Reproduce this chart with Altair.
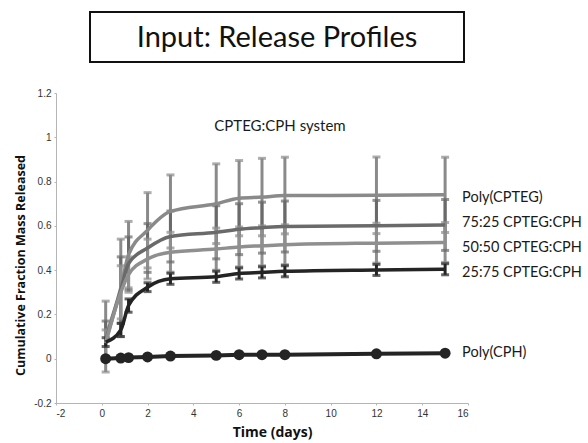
import altair as alt
import pandas as pd

# ---- data ----
times = [0.17, 0.83, 1.17, 2, 3, 5, 6, 7, 8, 12, 15]
series_names = ["Poly(CPTEG)", "75:25 CPTEG:CPH", "50:50 CPTEG:CPH", "25:75 CPTEG:CPH", "Poly(CPH)"]
cpteg = [0.10, 0.32, 0.47, 0.58, 0.665, 0.70, 0.725, 0.73, 0.737, 0.738, 0.74]
cpteg_sd = [0.16, 0.22, 0.15, 0.17, 0.165, 0.18, 0.17, 0.175, 0.173, 0.173, 0.17]
r7525 = [0.08, 0.31, 0.43, 0.50, 0.552, 0.571, 0.585, 0.592, 0.597, 0.600, 0.604]
r7525_sd = [0.09, 0.15, 0.12, 0.11, 0.115, 0.12, 0.115, 0.115, 0.115, 0.115, 0.115]
r5050 = [0.07, 0.30, 0.38, 0.45, 0.481, 0.495, 0.505, 0.510, 0.515, 0.522, 0.525]
r5050_sd = [0.06, 0.12, 0.08, 0.09, 0.09, 0.095, 0.09, 0.09, 0.09, 0.09, 0.09]
r2575 = [0.075, 0.13, 0.24, 0.323, 0.361, 0.370, 0.385, 0.390, 0.395, 0.401, 0.404]
r2575_sd = [0.02, 0.03, 0.03, 0.02, 0.025, 0.025, 0.025, 0.025, 0.025, 0.025, 0.025]
cph = [0.0, 0.003, 0.005, 0.008, 0.012, 0.015, 0.018, 0.018, 0.018, 0.022, 0.025]
label_anchor = [0.728, 0.615, 0.502, 0.389, 0.027]

x_ticks = [-2, 0, 2, 4, 6, 8, 10, 12, 14, 16]
y_ticks = [-0.2, 0, 0.2, 0.4, 0.6, 0.8, 1.0, 1.2]

colors = ["#8a8a8a", "#6a6a6a", "#8f8f8f", "#242424", "#242424"]

# ---- tables ----
rows = []
for name, vals, sds in [
    ("Poly(CPTEG)", cpteg, cpteg_sd),
    ("75:25 CPTEG:CPH", r7525, r7525_sd),
    ("50:50 CPTEG:CPH", r5050, r5050_sd),
    ("25:75 CPTEG:CPH", r2575, r2575_sd),
]:
    for t, v, s in zip(times, vals, sds):
        rows.append({"series": name, "t": t, "v": v, "lo": v - s, "hi": v + s})
err_df = pd.DataFrame(rows)
cph_df = pd.DataFrame({"series": "Poly(CPH)", "t": times, "v": cph})
lab_df = pd.DataFrame({"series": series_names, "t": [times[-1]] * 5, "v": label_anchor})

color = alt.Color("series:N", scale=alt.Scale(domain=series_names, range=colors), legend=None)
xs = alt.Scale(domain=[-2, 16], nice=False, zero=False)
ys = alt.Scale(domain=[-0.2, 1.2], nice=False, zero=False)

xax = alt.Axis(values=x_ticks, grid=False, labelExpr="toString(datum.value)",
               title="Time (days)", titleX=216, titleY=29, titleBaseline="middle",
               titleAnchor="start", titleAlign="center")
yax = alt.Axis(values=y_ticks, grid=False,
               labelExpr="toString(round(datum.value*10)/10)",
               title="Cumulative Fraction Mass Released", titleX=-36, titleY=172,
               titleAngle=-90, titleAlign="center", titleBaseline="middle",
               titleAnchor="start", titleFontSize=12.5)

X = alt.X("t:Q", scale=xs, axis=xax)
Y = alt.Y("v:Q", scale=ys, axis=yax)

base = alt.Chart(err_df)
rules = base.mark_rule(strokeWidth=3).encode(
    x=alt.X("t:Q", scale=xs), y=alt.Y("lo:Q", scale=ys), y2="hi:Q", color=color)
cap_lo = base.mark_tick(orient="horizontal", size=8, thickness=3).encode(
    x=alt.X("t:Q", scale=xs), y=alt.Y("lo:Q", scale=ys), color=color)
cap_hi = base.mark_tick(orient="horizontal", size=8, thickness=3).encode(
    x=alt.X("t:Q", scale=xs), y=alt.Y("hi:Q", scale=ys), color=color)
lines = base.mark_line(strokeWidth=3.5, interpolate="monotone").encode(
    x=X, y=Y, color=color, order="t:Q")

cph_line = alt.Chart(cph_df).mark_line(strokeWidth=4).encode(
    x=alt.X("t:Q", scale=xs), y=alt.Y("v:Q", scale=ys), color=color)
cph_pts = alt.Chart(cph_df).mark_circle(size=120, opacity=1).encode(
    x=alt.X("t:Q", scale=xs), y=alt.Y("v:Q", scale=ys), color=color)

labels = alt.Chart(lab_df).mark_text(
    align="left", baseline="middle", dx=17, font="Lato", fontSize=14.5, color="#1a1a1a"
).encode(x=alt.X("t:Q", scale=xs), y=alt.Y("v:Q", scale=ys), text="series:N")

one = pd.DataFrame({"k": [0]})
subtitle = alt.Chart(one).mark_text(
    text="CPTEG:CPH system", font="Lato", fontSize=15, color="#1a1a1a",
    align="center", baseline="middle"
).encode(x=alt.value(224), y=alt.value(33))

box = alt.Chart(one).mark_rect(fill="white", stroke="#111", strokeWidth=2).encode(
    x=alt.value(34), x2=alt.value(408), y=alt.value(-81), y2=alt.value(-31))
box_text = alt.Chart(one).mark_text(
    text="Input: Release Profiles", font="Lato", fontSize=29, color="#111",
    align="center", baseline="middle"
).encode(x=alt.value(221), y=alt.value(-55))

chart = alt.layer(
    rules, cap_lo, cap_hi, lines, cph_line, cph_pts, labels, subtitle, box, box_text
).properties(
    width=412, height=310,
    padding={"left": 56, "top": 93, "right": 120, "bottom": 40},
    autosize=alt.AutoSizeParams(type="none"),
    background="white",
).configure_view(stroke=None).configure_axis(
    domainColor="#b5b5b5", domainWidth=1, tickColor="#b5b5b5", tickSize=2,
    labelFont="Liberation Sans", labelFontSize=10, labelColor="#333",
    titleFont="Open Sans", titleFontSize=14, titleFontWeight="bold", titleColor="#111",
    labelPadding=3,
)

chart.save("out.html", embed_options={"renderer": "svg", "actions": False})
